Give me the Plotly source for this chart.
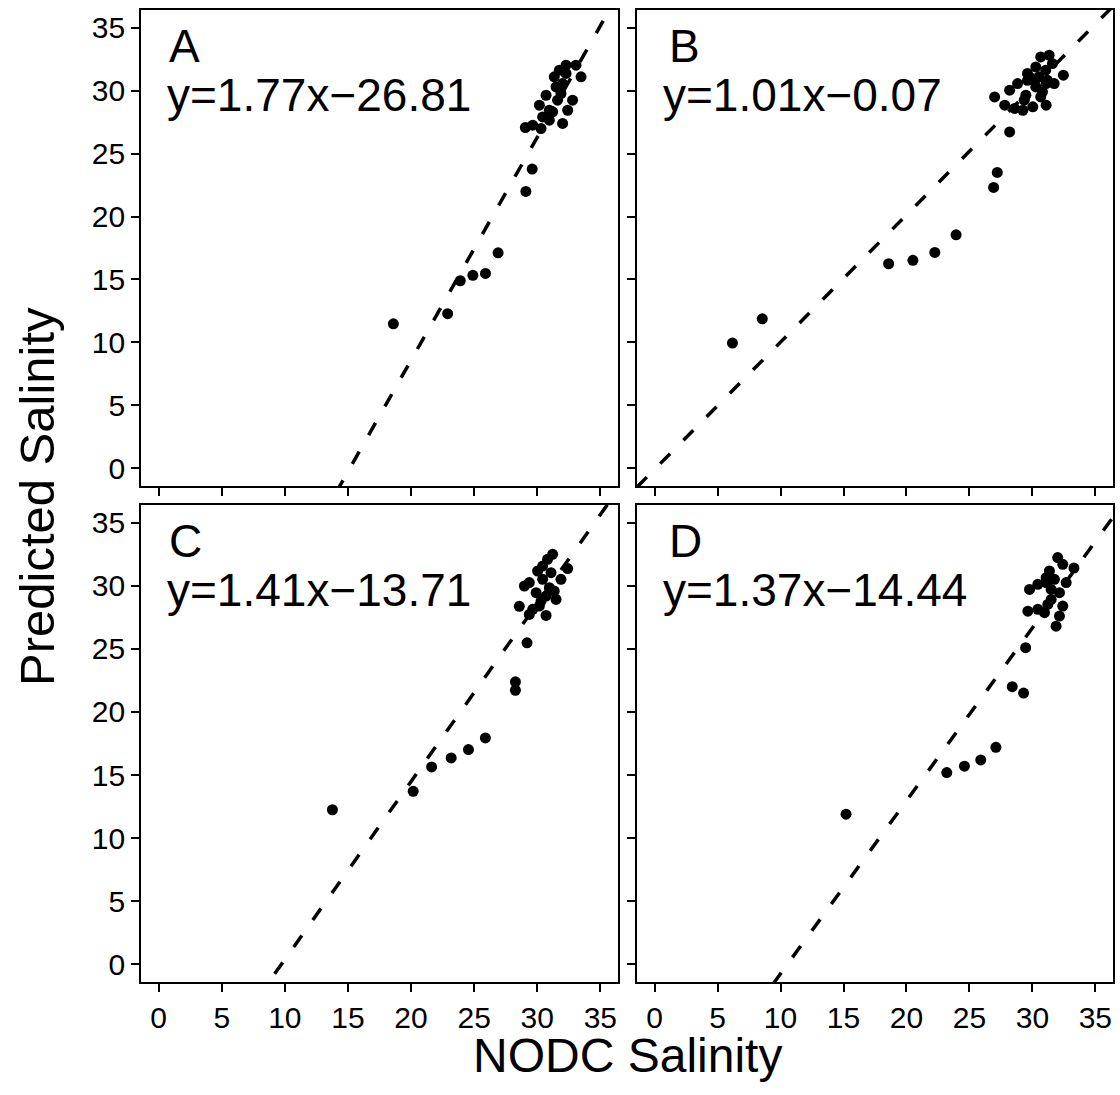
import plotly.graph_objects as go

# Observed (NODC) vs predicted salinity for four model variants
a_x = [29.6, 29.1, 26.9, 25.9, 24.9, 23.9, 22.9, 18.6,
       29.06, 29.64, 30.30, 30.96, 32.01, 30.17, 30.70, 31.22, 31.61, 32.80,
       31.35, 31.49, 32.28, 33.07, 33.47, 32.01, 31.75, 32.28, 31.88, 32.41,
       30.96, 30.43]
a_y = [23.77, 21.99, 17.12, 15.48, 15.33, 14.90, 12.28, 11.48,
       27.07, 27.25, 26.99, 27.65, 27.39, 28.84, 29.63, 28.31, 29.24, 29.24,
       31.09, 30.29, 32.02, 32.02, 31.09, 30.56, 31.62, 31.36, 29.77, 28.44,
       28.44, 27.91]

b_x = [27.21, 26.92, 23.94, 22.25, 20.51, 18.58, 8.55, 6.18,
       27.0, 27.8, 28.19, 28.19, 28.58, 29.24, 30.03, 31.09, 28.82, 29.61,
       29.48, 30.27, 30.80, 31.73, 32.46, 29.61, 30.27, 30.66, 31.33, 31.06,
       30.53, 30.00, 31.19, 31.59, 30.66, 29.35, 31.09]
b_y = [23.50, 22.31, 18.55, 17.15, 16.52, 16.25, 11.88, 9.95,
       29.5, 28.84, 30.03, 26.72, 28.58, 28.44, 28.71, 28.84, 30.56, 30.82,
       29.63, 30.29, 29.90, 30.56, 31.22, 31.36, 31.88, 32.67, 32.81, 31.62,
       31.09, 30.96, 30.82, 32.15, 29.50, 29.24, 30.56]

c_x = [29.19, 28.27, 28.27, 25.89, 24.55, 23.18, 21.63, 20.17, 13.77,
       28.58, 28.98, 29.37, 30.70, 32.41, 31.22, 30.82, 30.03, 30.43, 31.88,
       29.91, 30.70, 31.49, 30.17, 29.64, 30.96, 29.37, 30.43, 31.09, 30.30,
       31.35]
c_y = [25.48, 22.39, 21.72, 17.94, 17.02, 16.36, 15.64, 13.71, 12.25,
       28.37, 29.98, 27.73, 27.65, 31.36, 32.49, 32.10, 31.17, 30.51, 30.51,
       29.45, 29.18, 28.92, 28.39, 28.13, 29.85, 30.25, 31.56, 31.04, 28.79,
       29.58]

d_x = [33.3, 29.46, 28.4, 29.3, 27.1, 25.9, 24.6, 23.2, 15.2,
       32.01, 32.41, 31.35, 31.09, 29.77, 30.43, 31.75, 32.68, 32.15, 31.49,
       29.64, 30.43, 31.22, 32.41, 32.15, 31.88, 30.96, 31.49, 31.09]
d_y = [31.4, 25.09, 22.0, 21.5, 17.2, 16.2, 15.7, 15.2, 11.9,
       32.23, 31.70, 31.17, 30.64, 29.71, 30.11, 30.51, 30.25, 29.45, 28.92,
       27.99, 28.13, 28.52, 28.39, 27.60, 26.80, 27.87, 29.71, 30.25]

panel_labels = ["A", "B", "C", "D"]
slopes = [1.77, 1.01, 1.41, 1.37]
intercepts = [-26.81, -0.07, -13.71, -14.44]
tick_vals = [0, 5, 10, 15, 20, 25, 30, 35]
axis_range = [-1.4, 36.4]

W, H = 1120, 1095
FONT = "Liberation Sans, Arial, Helvetica, sans-serif"

# panel frames in pixels: (left, right, top, bottom)
frames = [
    (141, 618, 10, 486),
    (637, 1113, 10, 486),
    (141, 618, 505, 982),
    (637, 1113, 505, 982),
]

fig = go.Figure()
xs = [a_x, b_x, c_x, d_x]
ys = [a_y, b_y, c_y, d_y]

for i in range(4):
    ax = "" if i == 0 else str(i + 1)
    fig.add_trace(go.Scatter(
        x=xs[i], y=ys[i], mode="markers",
        marker=dict(color="black", size=11, line=dict(width=0)),
        xaxis="x" + ax, yaxis="y" + ax, showlegend=False,
    ))
    # fitted regression line across the full axis range
    lx = [axis_range[0], axis_range[1]]
    ly = [slopes[i] * v + intercepts[i] for v in lx]
    fig.add_trace(go.Scatter(
        x=lx, y=ly, mode="lines",
        line=dict(color="black", width=3.5, dash="14px,19px"),
        xaxis="x" + ax, yaxis="y" + ax, showlegend=False,
    ))

layout = dict(
    width=W, height=H,
    margin=dict(l=0, r=0, t=0, b=0),
    paper_bgcolor="white", plot_bgcolor="white",
    font=dict(family=FONT, color="black"),
)

for i, (l, r, t, b) in enumerate(frames):
    ax = "" if i == 0 else str(i + 1)
    common = dict(
        range=axis_range, tickvals=tick_vals,
        showline=True, mirror=True, linecolor="black", linewidth=1.6,
        ticks="outside", ticklen=8, tickwidth=1.6, tickcolor="black",
        showgrid=False, zeroline=False,
        tickfont=dict(family=FONT, size=30, color="black"),
    )
    layout["xaxis" + ax] = dict(
        common, domain=[l / W, r / W], anchor="y" + ax,
        showticklabels=(i >= 2),
    )
    layout["yaxis" + ax] = dict(
        common, domain=[1 - b / H, 1 - t / H], anchor="x" + ax,
        showticklabels=(i % 2 == 0),
    )

fig.update_layout(**layout)

annotations = []
for i, (l, r, t, b) in enumerate(frames):
    xoff = 26 if i % 2 == 0 else 30
    annotations.append(dict(
        text=panel_labels[i], x=(l + xoff) / W, y=1 - (t + 36) / H,
        xref="paper", yref="paper", xanchor="left", yanchor="middle",
        showarrow=False, font=dict(family=FONT, size=46, color="black"),
    ))
    sign = "\u2212" if intercepts[i] < 0 else "+"
    eq = "y=%.2fx%s%.2f" % (slopes[i], sign, abs(intercepts[i]))
    annotations.append(dict(
        text=eq, x=(l + 24) / W, y=1 - (t + 85) / H,
        xref="paper", yref="paper", xanchor="left", yanchor="middle",
        showarrow=False, font=dict(family=FONT, size=46, color="black"),
    ))

annotations.append(dict(
    text="NODC Salinity", x=627 / W, y=1 - 1055 / H,
    xref="paper", yref="paper", xanchor="center", yanchor="middle",
    showarrow=False, font=dict(family=FONT, size=48, color="black"),
))
annotations.append(dict(
    text="Predicted Salinity", x=37 / W, y=1 - 497 / H, textangle=-90,
    xref="paper", yref="paper", xanchor="center", yanchor="middle",
    showarrow=False, font=dict(family=FONT, size=49, color="black"),
))
fig.update_layout(annotations=annotations)

fig.write_html("out.html")
